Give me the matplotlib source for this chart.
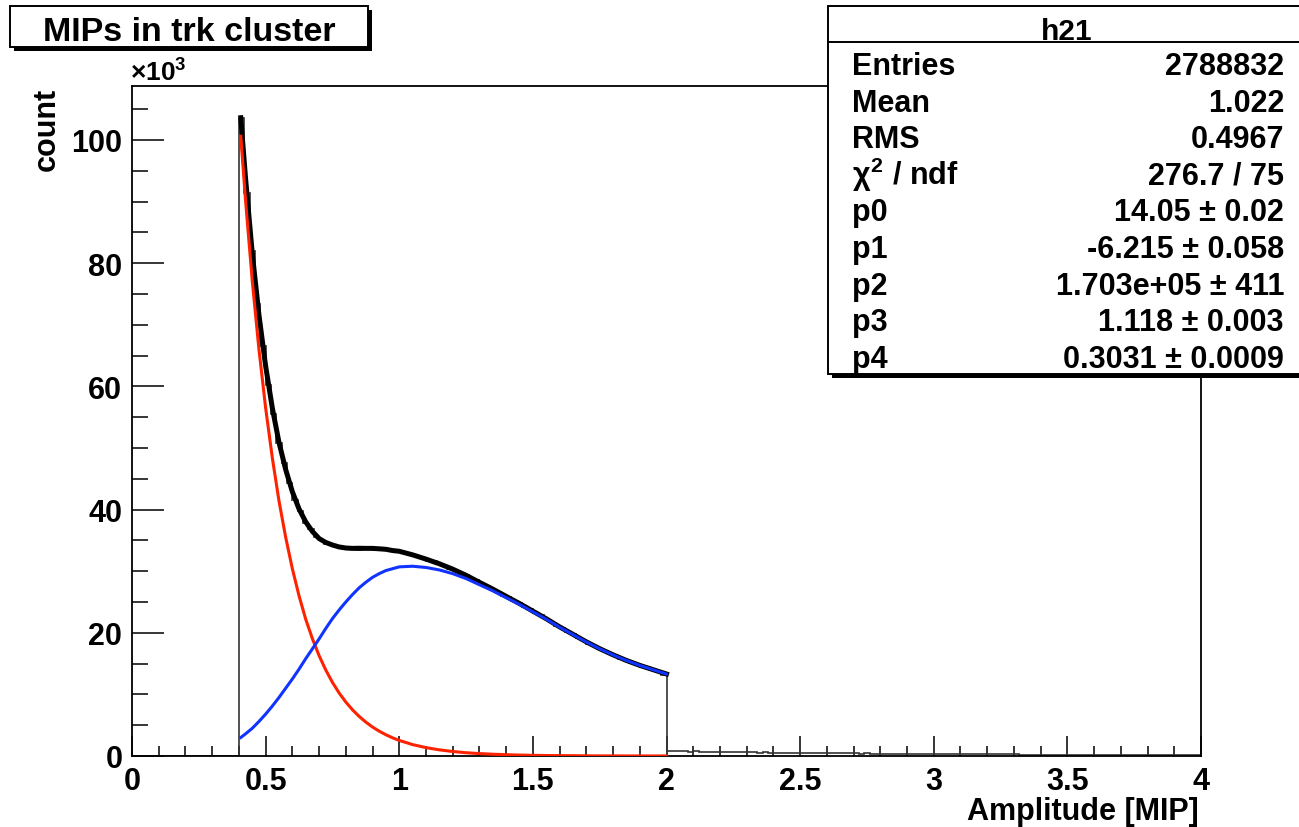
import numpy as np
import matplotlib
matplotlib.use('Agg')
import matplotlib.pyplot as plt
from matplotlib.patches import Rectangle
from matplotlib.ticker import MultipleLocator, FuncFormatter

plt.rcParams['font.family'] = ['Liberation Sans', 'DejaVu Sans']
plt.rcParams['font.weight'] = 'bold'
plt.rcParams['mathtext.fontset'] = 'custom'
plt.rcParams['mathtext.rm'] = 'Liberation Sans:bold'
plt.rcParams['mathtext.it'] = 'Liberation Sans'
plt.rcParams['mathtext.bf'] = 'Liberation Sans:bold'

# histogram h21, 200 bins of 0.02 from 0 to 4, counts in thousands
bin_width = 0.02
empty_low = [0.0] * 20  # 0.0 - 0.4
fit_region = [103.5, 91.4, 81.9, 73.4, 66.6, 60.2, 55.5, 50.8, 47.5, 44.3,
              41.5, 39.8, 37.9, 36.8, 35.6, 35.1, 34.4, 34.3, 33.9, 33.9,
              33.6, 33.8, 33.5, 33.7, 33.8, 33.5, 33.7, 33.4, 33.5, 33.2,
              33.1, 32.8, 32.7, 32.3, 32.2, 31.7, 31.6, 31.1, 30.9, 30.4,
              30.2, 29.6, 29.4, 28.8, 28.5, 27.9, 27.6, 27.0, 26.7, 26.0,
              25.8, 25.1, 24.8, 24.2, 23.8, 23.2, 22.9, 22.2, 21.8, 21.1,
              20.8, 20.2, 19.8, 19.2, 18.9, 18.2, 17.9, 17.4, 17.1, 16.5,
              16.3, 15.8, 15.6, 15.1, 14.9, 14.5, 14.4, 13.9, 13.8, 13.2]
tail = [0.82, 0.79, 0.77, 0.76, 0.72, 0.74, 0.70, 0.69, 0.67, 0.68,
        0.65, 0.64, 0.62, 0.63, 0.60, 0.59, 0.58, 0.56, 0.57, 0.55,
        0.54, 0.52, 0.53, 0.51, 0.50, 0.49, 0.50, 0.47, 0.46, 0.47,
        0.45, 0.44, 0.45, 0.42, 0.43, 0.41, 0.40, 0.41, 0.39, 0.38,
        0.38, 0.37, 0.36, 0.37, 0.35, 0.34, 0.35, 0.33, 0.33, 0.32,
        0.32, 0.31, 0.31, 0.30, 0.30, 0.29, 0.29, 0.28, 0.28, 0.27,
        0.27, 0.26, 0.27, 0.25, 0.25, 0.25, 0.24, 0.24, 0.23, 0.24,
        0.23, 0.22, 0.23, 0.21, 0.22, 0.21, 0.20, 0.21, 0.20, 0.19,
        0.20, 0.19, 0.19, 0.18, 0.18, 0.18, 0.17, 0.17, 0.17, 0.16,
        0.16, 0.16, 0.15, 0.15, 0.15, 0.14, 0.14, 0.14, 0.13, 0.13]

# fit curves (thousands)
fit_x = [0.407, 0.425, 0.45, 0.475, 0.5, 0.525, 0.55, 0.575, 0.6, 0.625,
         0.65, 0.675, 0.7, 0.725, 0.75, 0.775, 0.8, 0.825, 0.85, 0.875,
         0.9, 0.925, 0.95, 0.975, 1.0, 1.05, 1.1, 1.15, 1.2, 1.25,
         1.3, 1.35, 1.4, 1.45, 1.5, 1.55, 1.6, 1.65, 1.7, 1.75,
         1.8, 1.85, 1.9, 1.95, 2.0]
expo = [100.6, 90.1, 77.1, 66.0, 56.5, 48.4, 41.4, 35.5, 30.4, 26.0,
        22.2, 19.05, 16.3, 13.96, 11.95, 10.23, 8.76, 7.50, 6.42, 5.50,
        4.70, 4.03, 3.45, 2.95, 2.53, 1.85, 1.36, 1.00, 0.73, 0.53,
        0.39, 0.29, 0.21, 0.15, 0.11, 0.08, 0.06, 0.05, 0.03, 0.02,
        0.02, 0.01, 0.01, 0.01, 0.01]
landau = [3.0, 3.6, 4.5, 5.6, 6.8, 8.1, 9.5, 11.0, 12.5, 14.1,
          15.8, 17.4, 19.0, 20.7, 22.3, 23.7, 25.0, 26.2, 27.3, 28.2,
          29.0, 29.6, 30.1, 30.4, 30.7, 30.8, 30.6, 30.2, 29.6, 28.8,
          27.8, 26.8, 25.7, 24.6, 23.4, 22.2, 20.9, 19.7, 18.5, 17.4,
          16.4, 15.5, 14.7, 14.0, 13.3]
total = [103.6, 93.7, 81.6, 71.6, 63.3, 56.5, 50.9, 46.5, 42.9, 40.1,
         38.0, 36.45, 35.3, 34.66, 34.25, 33.93, 33.76, 33.7, 33.72, 33.7,
         33.7, 33.63, 33.55, 33.35, 33.23, 32.65, 31.96, 31.2, 30.33, 29.33,
         28.19, 27.09, 25.91, 24.75, 23.51, 22.28, 20.96, 19.75, 18.53, 17.42,
         16.42, 15.51, 14.71, 14.01, 13.31]

stat_labels = ['Entries', 'Mean', 'RMS', r'$\chi^{2}$ / ndf', 'p0', 'p1', 'p2', 'p3', 'p4']
stat_values = ['2788832', '1.022', '0.4967', '276.7 / 75', '14.05 ± 0.02',
               '-6.215 ± 0.058', '1.703e+05 ± 411', '1.118 ± 0.003',
               '0.3031 ± 0.0009']

W, H = 1299, 828
def fx(px):
    return px / W
def fy(py):
    return 1 - py / H

fig = plt.figure(figsize=(W / 100, H / 100), dpi=100)
ax = fig.add_axes([fx(132), fy(757), fx(1201) - fx(132), fy(87) - fy(757)])

counts = np.array(empty_low + fit_region + tail)
edges = np.linspace(0, 4, len(counts) + 1)
ax.stairs(counts, edges, color='#333333', lw=1.2, zorder=2)
ax.plot(fit_x, total, color='black', lw=3.6, zorder=3)
ax.plot(fit_x, expo, color='#ff2200', lw=2.2, zorder=4)
ax.plot(fit_x, landau, color='#1133ff', lw=2.2, zorder=5)

ax.set_xlim(0, 4)
ax.set_ylim(0, 108.75)
ax.xaxis.set_major_locator(MultipleLocator(0.5))
ax.xaxis.set_minor_locator(MultipleLocator(0.1))
ax.yaxis.set_major_locator(MultipleLocator(20))
ax.yaxis.set_minor_locator(MultipleLocator(5))
ax.xaxis.set_major_formatter(FuncFormatter(lambda v, p: '%g' % v))
ax.yaxis.set_major_formatter(FuncFormatter(lambda v, p: '%g' % v))
ax.tick_params(axis='both', which='both', direction='in', width=1.1,
               labelsize=22, top=False, right=False)
ax.tick_params(axis='y', which='major', length=23, pad=7)
ax.tick_params(axis='y', which='minor', length=11.5)
ax.tick_params(axis='x', which='major', length=14.4, pad=7)
ax.tick_params(axis='x', which='minor', length=7.2)
for s in ax.spines.values():
    s.set_linewidth(1.3)

fig.text(fx(1199), fy(820), 'Amplitude [MIP]', ha='right', va='baseline', fontsize=22)
fig.text(fx(47), fy(88), 'count', rotation=90, ha='center', va='top', fontsize=22)
fig.text(fx(130), fy(82), r'×10$^{3}$', ha='left', va='baseline', fontsize=19)

# title box
fig.add_artist(Rectangle((fx(14), fy(52)), fx(358), fy(0) - fy(41),
                         transform=fig.transFigure, fc='black', ec='black', lw=0))
fig.add_artist(Rectangle((fx(10), fy(48)), fx(358), fy(0) - fy(41),
                         transform=fig.transFigure, fc='white', ec='black', lw=1.4))
fig.text(fx(189), fy(41), 'MIPs in trk cluster', ha='center', va='baseline',
         fontsize=24.5, zorder=5)

# stats box
fig.add_artist(Rectangle((fx(832), fy(379)), fx(500), fy(0) - fy(372),
                         transform=fig.transFigure, fc='black', ec='black', lw=0))
fig.add_artist(Rectangle((fx(828), fy(375)), fx(500), fy(0) - fy(368),
                         transform=fig.transFigure, fc='white', ec='black', lw=1.4))
fig.add_artist(plt.Line2D([fx(828), 1], [fy(43), fy(43)], transform=fig.transFigure,
                          color='black', lw=1.4))
fig.text(fx(1067), fy(40), 'h21', ha='center', va='baseline', fontsize=21.5, zorder=5)
for i, (lab, val) in enumerate(zip(stat_labels, stat_values)):
    base = 75 + i * 36.6
    fig.text(fx(852), fy(base), lab, ha='left', va='baseline', fontsize=22, zorder=5)
    fig.text(fx(1284), fy(base), val, ha='right', va='baseline', fontsize=22, zorder=5)

fig.savefig('out.png', dpi=100)
